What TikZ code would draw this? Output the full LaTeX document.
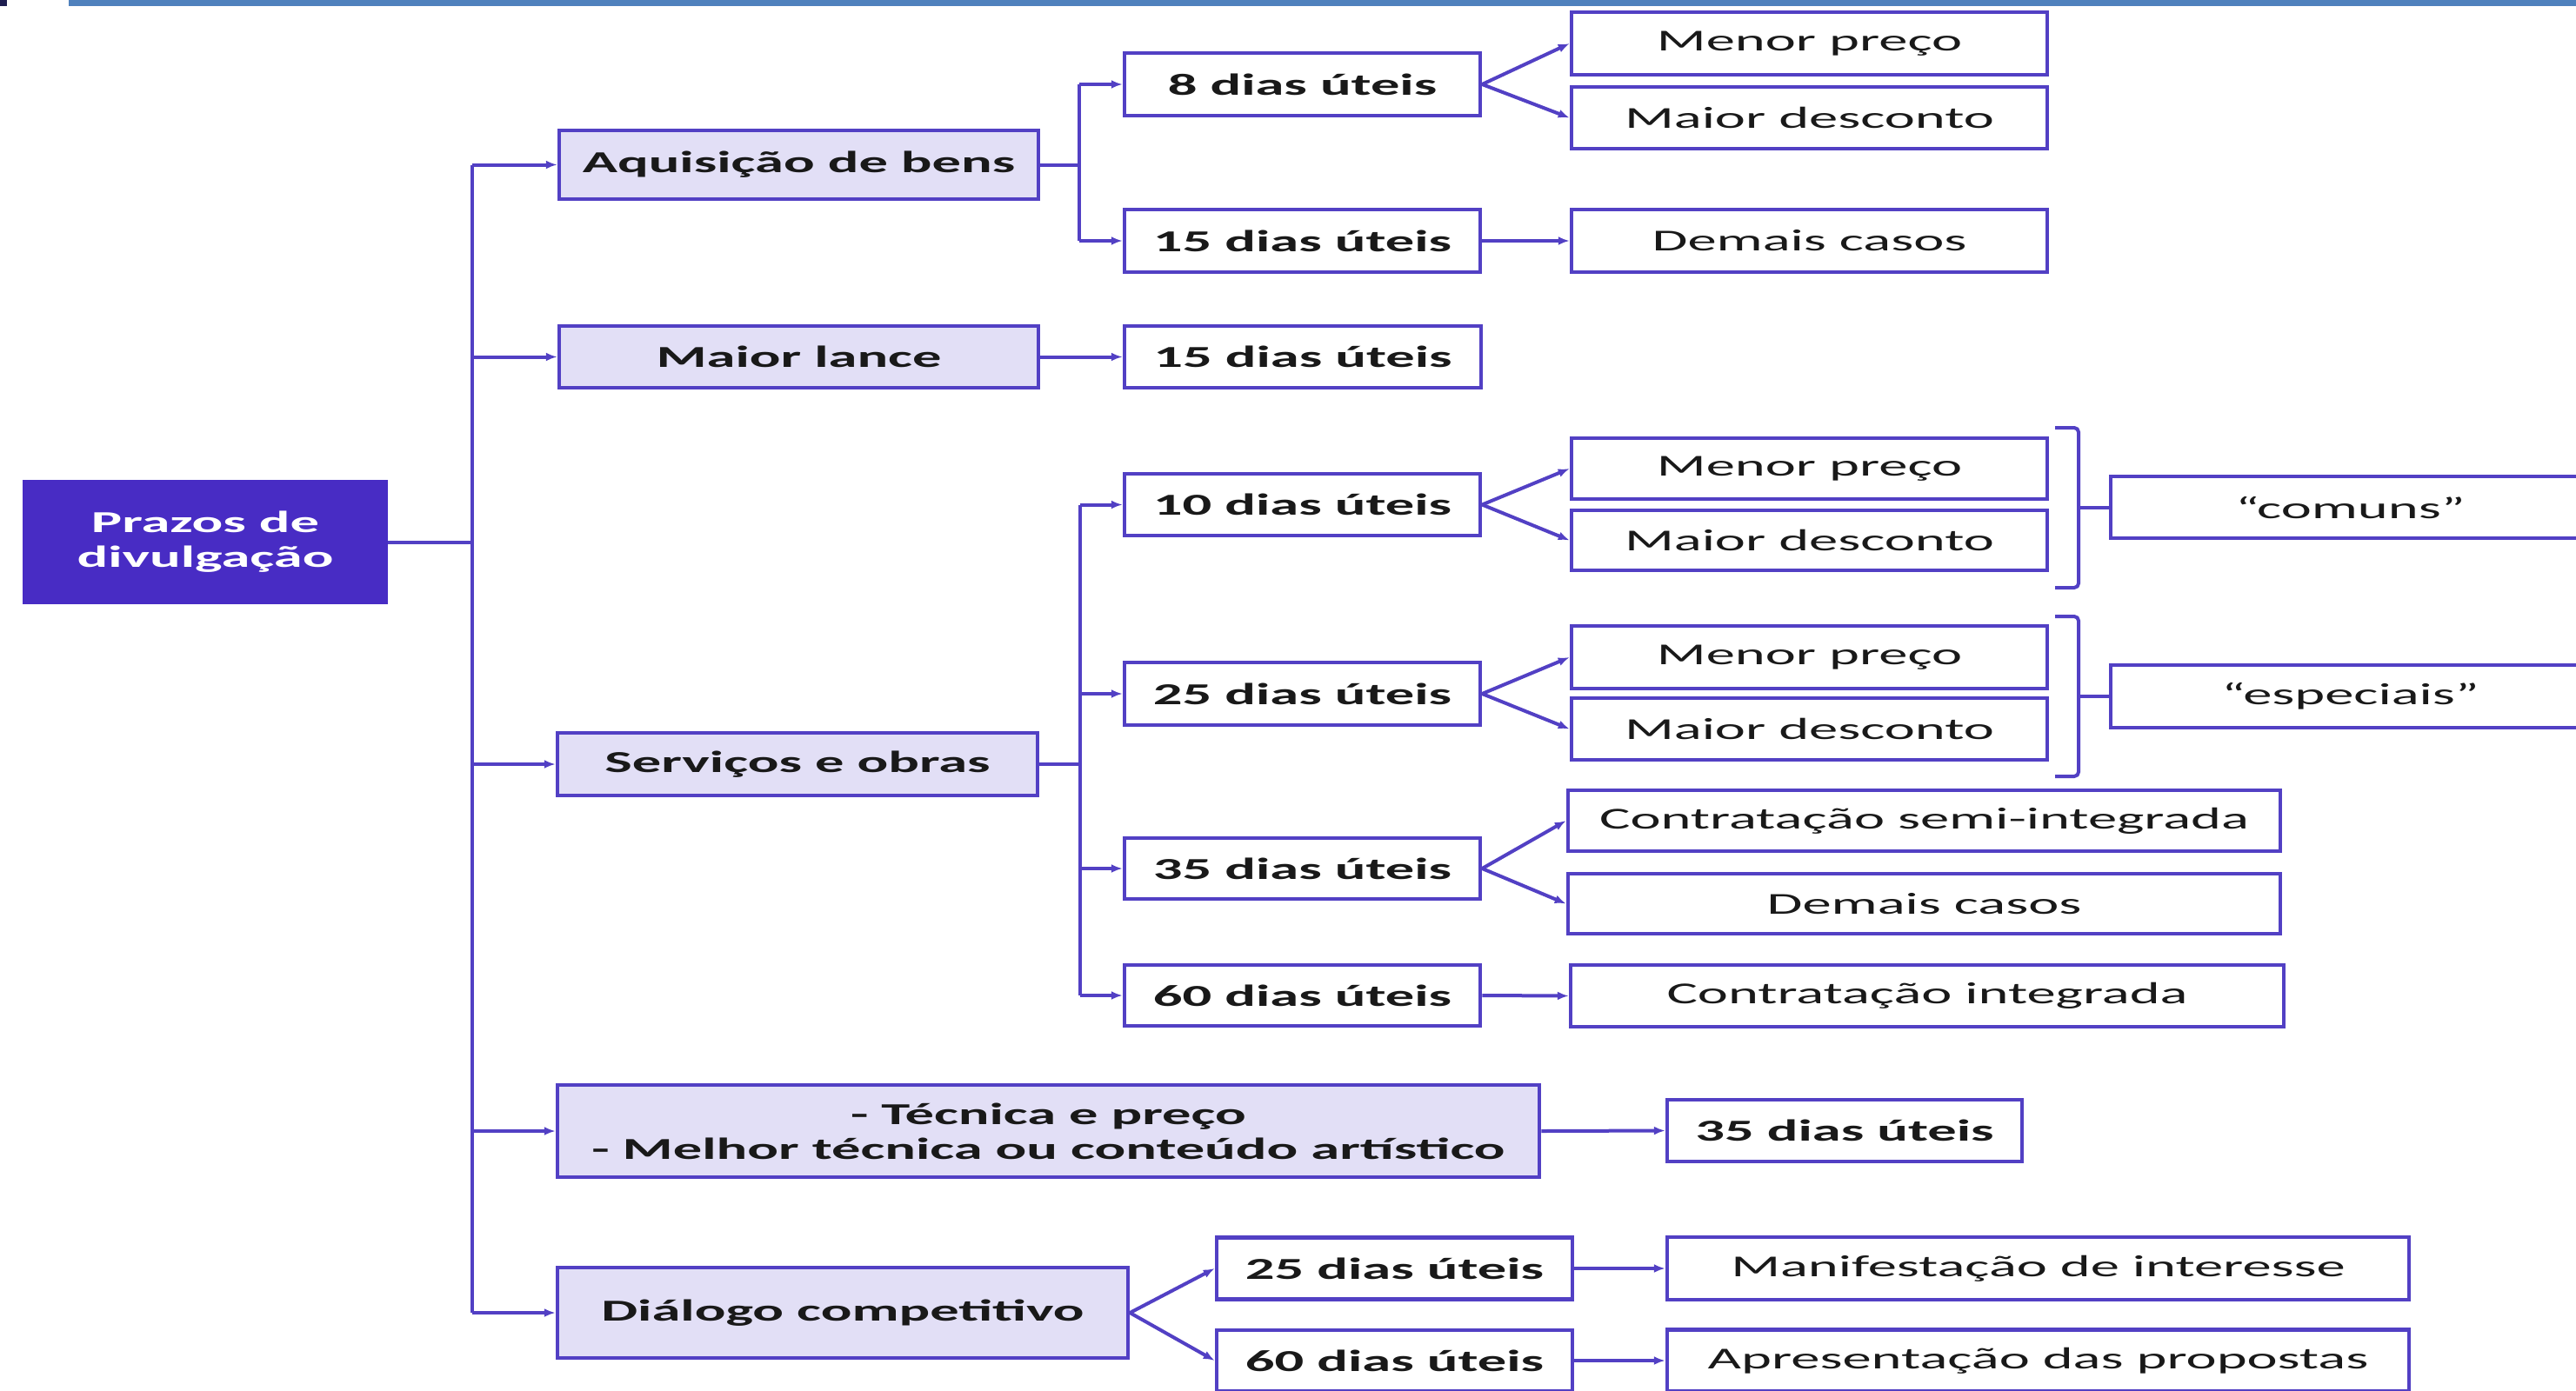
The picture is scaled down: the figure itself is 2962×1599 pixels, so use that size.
\documentclass[tikz,border=0pt]{standalone}
\usepackage{fontspec}
\setmainfont{Carlito}[FakeStretch=1.9]
\usetikzlibrary{arrows.meta}
\definecolor{bd}{RGB}{82,64,196}
\definecolor{rootc}{RGB}{72,44,196}
\definecolor{lav}{RGB}{226,223,246}
\definecolor{topbar}{RGB}{79,129,189}
\definecolor{darkc}{RGB}{30,30,80}
\definecolor{txt}{RGB}{25,25,25}
\begin{document}
\begin{tikzpicture}[x=1pt,y=-1pt,
  box/.style={draw=bd, line width=4.5pt, inner sep=0pt, text=txt, font=\fontsize{35}{40}\selectfont},
  lvlone/.style={box, fill=lav, font=\fontsize{35}{40}\selectfont\bfseries},
  lvltwo/.style={box, fill=white, font=\fontsize{35}{40}\selectfont\bfseries},
  lvlthree/.style={box, fill=white},
  rootbox/.style={fill=rootc, draw=rootc, line width=2pt, inner sep=0pt, text=white, align=center, font=\fontsize{35}{40}\selectfont\bfseries},
  conn/.style={draw=bd, line width=4pt},
  arr/.style={conn, -{Latex[length=13pt,width=10pt]}},
  brk/.style={draw=bd, line width=4pt, rounded corners=5pt}
]
\useasboundingbox (0,0) rectangle (2962,1599);
\fill[white] (0,0) rectangle (2962,1599);
\fill[topbar] (79,0) rectangle (2962,7);
\fill[darkc] (0,0) rectangle (8,7);

% root
\node[rootbox, minimum width=418pt, minimum height=141pt] (root) at (236,623.5) {Prazos de\\divulgação};

% level 1
\node[lvlone, minimum width=551pt, minimum height=79pt] (acq) at (918.5,189.5) {Aquisição de bens};
\node[lvlone, minimum width=551pt, minimum height=71pt] (lance) at (918.5,410.5) {Maior lance};
\node[lvlone, minimum width=552pt, minimum height=72pt] (serv) at (917,879) {Serviços e obras};
\node[lvlone, minimum width=1129pt, minimum height=106pt, align=center] (tec) at (1205.5,1301) {- Técnica e preço\\- Melhor técnica ou conteúdo artístico};
\node[lvlone, minimum width=656pt, minimum height=104pt] (dial) at (969,1510) {Diálogo competitivo};

% level 2
\node[lvltwo, minimum width=409pt, minimum height=72pt] (d8) at (1497.5,97) {8 dias úteis};
\node[lvltwo, minimum width=409pt, minimum height=72pt] (d15a) at (1497.5,277) {15 dias úteis};
\node[lvltwo, minimum width=410pt, minimum height=71pt] (d15b) at (1498,410.5) {15 dias úteis};
\node[lvltwo, minimum width=409pt, minimum height=71pt] (d10) at (1497.5,580.5) {10 dias úteis};
\node[lvltwo, minimum width=409pt, minimum height=72pt] (d25) at (1497.5,798) {25 dias úteis};
\node[lvltwo, minimum width=409pt, minimum height=70pt] (d35) at (1497.5,999) {35 dias úteis};
\node[lvltwo, minimum width=409pt, minimum height=70pt] (d60) at (1497.5,1145) {60 dias úteis};
\node[lvltwo, minimum width=408pt, minimum height=71pt] (t35) at (2121,1300.5) {35 dias úteis};
\node[lvltwo, minimum width=409pt, minimum height=71pt] (g25) at (1603.5,1459) {25 dias úteis};
\node[lvltwo, minimum width=409pt, minimum height=70pt] (g60) at (1603.5,1565) {60 dias úteis};

% level 3
\node[lvlthree, minimum width=547pt, minimum height=72pt] (mp1) at (2080.5,50) {Menor preço};
\node[lvlthree, minimum width=547pt, minimum height=71pt] (md1) at (2080.5,135.5) {Maior desconto};
\node[lvlthree, minimum width=547pt, minimum height=72pt] (dc1) at (2080.5,277) {Demais casos};
\node[lvlthree, minimum width=547pt, minimum height=70pt] (mp2) at (2080.5,539) {Menor preço};
\node[lvlthree, minimum width=547pt, minimum height=69pt] (md2) at (2080.5,621.5) {Maior desconto};
\node[lvlthree, minimum width=547pt, minimum height=72pt] (mp3) at (2080.5,756) {Menor preço};
\node[lvlthree, minimum width=547pt, minimum height=71pt] (md3) at (2080.5,838.5) {Maior desconto};
\node[lvlthree, minimum width=819pt, minimum height=70pt] (csi) at (2212.5,944) {Contratação semi-integrada};
\node[lvlthree, minimum width=819pt, minimum height=69pt] (dc2) at (2212.5,1039.5) {Demais casos};
\node[lvlthree, minimum width=820pt, minimum height=71pt] (ci) at (2216,1145.5) {Contratação integrada};
\node[lvlthree, minimum width=853pt, minimum height=72pt] (mi) at (2343.5,1459) {Manifestação de interesse};
\node[lvlthree, minimum width=853pt, minimum height=71pt] (ap) at (2343.5,1565) {Apresentação das propostas};

% level 4
\node[lvlthree, minimum width=551pt, minimum height=71pt] (comuns) at (2702.5,583.5) {“comuns”};
\node[lvlthree, minimum width=551pt, minimum height=72pt] (espec) at (2702.5,801) {“especiais”};

% trunk
\coordinate (tk) at (543,0);
\draw[conn] (root.east) -- (root.east -| tk);
\draw[conn] (acq.west -| tk) -- (dial.west -| tk);
\foreach \n in {acq,lance,serv,tec,dial} \draw[arr] (\n.west -| tk) -- (\n.west);

% aquisição branch
\coordinate (ta) at (1241,0);
\draw[conn] (acq.east) -- (acq.east -| ta);
\draw[conn] (d8.west -| ta) -- (d15a.west -| ta);
\foreach \n in {d8,d15a} \draw[arr] (\n.west -| ta) -- (\n.west);
\draw[arr] (d8.east) -- (mp1.west);
\draw[arr] (d8.east) -- (md1.west);
\draw[arr] (d15a.east) -- (dc1.west);

% maior lance
\draw[arr] (lance.east) -- (d15b.west);

% serviços branch
\coordinate (tb) at (1242,0);
\draw[conn] (serv.east) -- (serv.east -| tb);
\draw[conn] (d10.west -| tb) -- (d60.west -| tb);
\foreach \n in {d10,d25,d35,d60} \draw[arr] (\n.west -| tb) -- (\n.west);
\draw[arr] (d10.east) -- (mp2.west);
\draw[arr] (d10.east) -- (md2.west);
\draw[arr] (d25.east) -- (mp3.west);
\draw[arr] (d25.east) -- (md3.west);
\draw[arr] (d35.east) -- (csi.west);
\draw[arr] (d35.east) -- (dc2.west);
\draw[arr] (d60.east) -- (ci.west);

% brackets
\draw[brk] (2363,492) -- (2390,492) -- (2390,676) -- (2363,676);
\coordinate (bra) at (2390,583.5);
\draw[conn] (bra) -- (comuns.west);
\draw[brk] (2363,709) -- (2390,709) -- (2390,893) -- (2363,893);
\coordinate (brb) at (2390,801);
\draw[conn] (brb) -- (espec.west);

% técnica
\draw[arr] (tec.east) -- (t35.west);

% diálogo
\draw[arr] (dial.east) -- (g25.west);
\draw[arr] (dial.east) -- (g60.west);
\draw[arr] (g25.east) -- (mi.west);
\draw[arr] (g60.east) -- (ap.west);
\end{tikzpicture}
\end{document}
